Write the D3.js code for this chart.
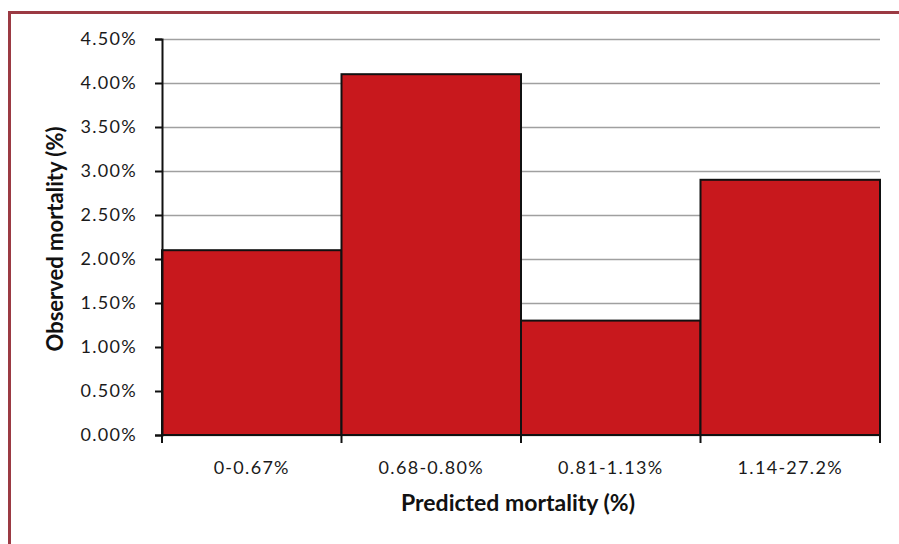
<!DOCTYPE html>
<html>
<head>
<meta charset="utf-8">
<script src="https://cdn.jsdelivr.net/npm/d3@7"></script>
<style>
    body { margin: 0; background: #fff; }
    svg { display: block; }
    .tick-label { font-family: Lato, "Open Sans", sans-serif; font-size: 18px; font-weight: normal; fill: #1a1a1a; letter-spacing: 1.3px; }
    .axis-title { font-family: Lato, "Open Sans", sans-serif; font-size: 22px; font-weight: bold; fill: #111; }
</style>
</head>
<body>
<svg id="chart" width="899" height="544"></svg>
<script>
    // chart values
    let categories = ["0-0.67%", "0.68-0.80%", "0.81-1.13%", "1.14-27.2%"]
    let observed = [0.021, 0.041, 0.013, 0.029]
    let yTicks = [0, 0.005, 0.01, 0.015, 0.02, 0.025, 0.03, 0.035, 0.04, 0.045]
    let xTitle = "Predicted mortality (%)"
    let yTitle = "Observed mortality (%)"

    function drawChart() {
        let svg = d3.select("#chart")
        let left = 162, right = 880, top = 39, bottom = 435

        // frame round the chart, only left and top show
        svg.append("path")
            .attr("d", "M9.5,544 L9.5,12.5 L899,12.5")
            .attr("fill", "none")
            .attr("stroke", "#9b3a43")
            .attr("stroke-width", 3)

        let xScale = d3.scaleBand()
            .domain(categories)
            .range([left, right])
            .padding(0)
        let yScale = d3.scaleLinear()
            .domain([0, 0.045])
            .range([bottom, top])

        // gridlines
        svg.append("g")
            .selectAll("line")
            .data(yTicks)
            .enter()
            .append("line")
            .attr("x1", left)
            .attr("x2", right)
            .attr("y1", d => yScale(d) + 0.5)
            .attr("y2", d => yScale(d) + 0.5)
            .attr("stroke", "#a0a0a0")
            .attr("stroke-width", 1.5)

        // bars
        svg.append("g")
            .selectAll("rect")
            .data(observed)
            .enter()
            .append("rect")
            .attr("x", (d, i) => xScale(categories[i]))
            .attr("y", d => yScale(d))
            .attr("width", xScale.bandwidth())
            .attr("height", d => bottom - yScale(d))
            .attr("fill", "#c8181d")
            .attr("stroke", "#111")
            .attr("stroke-width", 2)

        // y axis
        let yAxis = svg.append("g")
            .attr("transform", "translate(" + left + ",0)")
            .call(d3.axisLeft(yScale).tickValues(yTicks).tickFormat(d3.format(".2%")).tickSize(7).tickPadding(18))
        yAxis.select(".domain").attr("stroke", "#111").attr("stroke-width", 2)
        yAxis.selectAll(".tick line").attr("stroke", "#111").attr("stroke-width", 2)
        yAxis.selectAll(".tick text").attr("class", "tick-label").attr("font-size", null).attr("font-family", null)

        // x axis
        let xEdges = categories.map(c => xScale(c)).concat([right])
        svg.append("line")
            .attr("x1", left).attr("x2", right)
            .attr("y1", bottom).attr("y2", bottom)
            .attr("stroke", "#111").attr("stroke-width", 2)
        svg.append("g")
            .selectAll("line")
            .data(xEdges)
            .enter()
            .append("line")
            .attr("x1", d => d).attr("x2", d => d)
            .attr("y1", bottom).attr("y2", bottom + 8)
            .attr("stroke", "#111").attr("stroke-width", 2)
        svg.append("g")
            .selectAll("text")
            .data(categories)
            .enter()
            .append("text")
            .attr("class", "tick-label")
            .attr("x", d => xScale(d) + xScale.bandwidth() / 2)
            .attr("y", 474)
            .attr("text-anchor", "middle")
            .text(d => d)

        // axis titles
        svg.append("text")
            .attr("class", "axis-title")
            .attr("x", 518)
            .attr("y", 511)
            .attr("text-anchor", "middle")
            .style("font-size", "23px")
            .text(xTitle)
        svg.append("text")
            .attr("class", "axis-title")
            .attr("transform", "translate(63,239) rotate(-90)")
            .attr("text-anchor", "middle")
            .text(yTitle)
    }

    drawChart()
</script>
</body>
</html>
